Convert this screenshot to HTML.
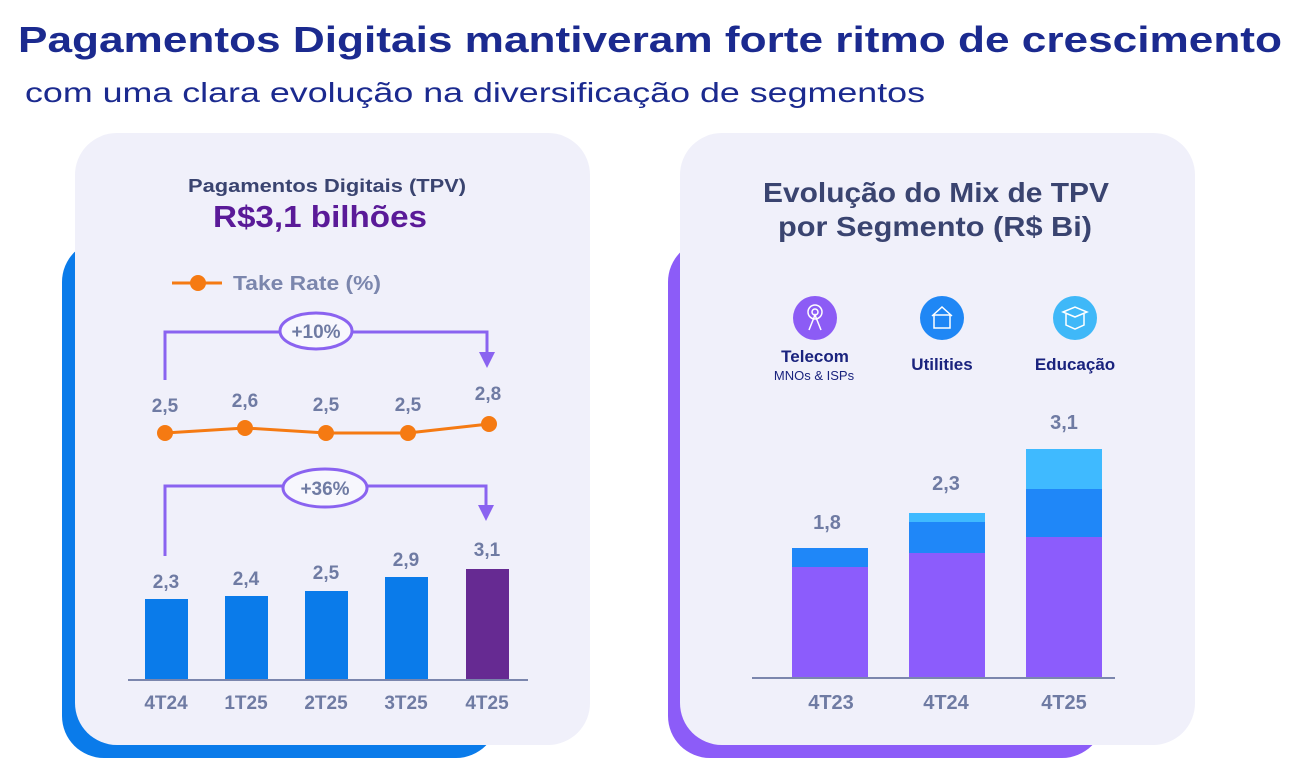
<!DOCTYPE html>
<html><head><meta charset="utf-8"><style>
html,body{margin:0;padding:0;background:#fff;}
svg{display:block;font-family:"Liberation Sans",sans-serif;}
</style></head><body>
<svg width="1296" height="768" viewBox="0 0 1296 768" xmlns="http://www.w3.org/2000/svg">
<rect width="1296" height="768" fill="#fff"/>
<text x="18" y="52" font-size="36" font-weight="bold" fill="#1b2a8f" textLength="1264" lengthAdjust="spacingAndGlyphs">Pagamentos Digitais mantiveram forte ritmo de crescimento</text>
<text x="25" y="102" font-size="28" fill="#1b2a8f" textLength="900" lengthAdjust="spacingAndGlyphs">com uma clara evolução na diversificação de segmentos</text>

<!-- left card -->
<rect x="62" y="240" width="436" height="518" rx="42" fill="#0a7bea"/>
<rect x="75" y="133" width="515" height="612" rx="42" fill="#f0f0fa"/>
<text x="327" y="192" font-size="18" font-weight="bold" fill="#3a4470" text-anchor="middle" textLength="278" lengthAdjust="spacingAndGlyphs">Pagamentos Digitais (TPV)</text>
<text x="320" y="227" font-size="31" font-weight="bold" fill="#5a1a98" text-anchor="middle" textLength="214" lengthAdjust="spacingAndGlyphs">R$3,1 bilhões</text>
<line x1="172" y1="283" x2="222" y2="283" stroke="#f57a12" stroke-width="3"/>
<circle cx="198" cy="283" r="8" fill="#f57a12"/>
<text x="233" y="290" font-size="20" font-weight="bold" fill="#7b86ad" textLength="148" lengthAdjust="spacingAndGlyphs">Take Rate (%)</text>

<g stroke="#8a63f0" stroke-width="3" fill="none">
<polyline points="165,380 165,332 487,332 487,355"/>
<polyline points="165,556 165,486 486,486 486,508"/>
</g>
<polygon points="479,352 495,352 487,368" fill="#8a63f0"/>
<polygon points="478,505 494,505 486,521" fill="#8a63f0"/>
<ellipse cx="316" cy="331" rx="36" ry="18" fill="#f7f7fd" stroke="#8a63f0" stroke-width="3"/>
<ellipse cx="325" cy="488" rx="42" ry="19" fill="#f7f7fd" stroke="#8a63f0" stroke-width="3"/>
<g font-size="19" font-weight="bold" fill="#6f7ba3" text-anchor="middle">
<text x="316" y="338">+10%</text>
<text x="325" y="495">+36%</text>
<text x="165" y="412">2,5</text><text x="245" y="407">2,6</text><text x="326" y="411">2,5</text><text x="408" y="411">2,5</text><text x="488" y="400">2,8</text>
<text x="166" y="588">2,3</text><text x="246" y="585">2,4</text><text x="326" y="579">2,5</text><text x="406" y="566">2,9</text><text x="487" y="556">3,1</text>
<text x="166" y="709">4T24</text><text x="246" y="709">1T25</text><text x="326" y="709">2T25</text><text x="406" y="709">3T25</text><text x="487" y="709">4T25</text>
</g>
<polyline points="165,433 245,428 326,433 408,433 489,424" fill="none" stroke="#f57a12" stroke-width="3"/>
<g fill="#f57a12"><circle cx="165" cy="433" r="8"/><circle cx="245" cy="428" r="8"/><circle cx="326" cy="433" r="8"/><circle cx="408" cy="433" r="8"/><circle cx="489" cy="424" r="8"/></g>
<g fill="#0a7bea">
<rect x="145" y="599" width="43" height="81"/><rect x="225" y="596" width="43" height="84"/><rect x="305" y="591" width="43" height="89"/><rect x="385" y="577" width="43" height="103"/>
</g>
<rect x="466" y="569" width="43" height="111" fill="#662a92"/>
<line x1="128" y1="680" x2="528" y2="680" stroke="#7b86ad" stroke-width="2"/>

<!-- right card -->
<rect x="668" y="240" width="436" height="518" rx="42" fill="#8c5cf8"/>
<rect x="680" y="133" width="515" height="612" rx="42" fill="#f0f0fa"/>
<g font-size="28" font-weight="bold" fill="#3a4470" text-anchor="middle">
<text x="936" y="202" textLength="346" lengthAdjust="spacingAndGlyphs">Evolução do Mix de TPV</text>
<text x="935" y="236" textLength="314" lengthAdjust="spacingAndGlyphs">por Segmento (R$ Bi)</text>
</g>
<circle cx="815" cy="318" r="22" fill="#8c5cf5"/>
<circle cx="942" cy="318" r="22" fill="#1f87f5"/>
<circle cx="1075" cy="318" r="22" fill="#3fb8f8"/>
<g stroke="#fff" stroke-width="1.5" fill="none">
<circle cx="815" cy="312" r="7"/><circle cx="815" cy="312" r="3"/><polyline points="809,330 815,315 821,330"/>
<polyline points="932,316 942,307 952,316"/><rect x="934" y="315" width="16" height="13"/>
<polygon points="1063,312 1075,307 1087,312 1075,317"/><polyline points="1066,314 1066,325 1075,329 1084,325 1084,314"/>
</g>
<g text-anchor="middle" fill="#1a237e" font-weight="bold" font-size="17">
<text x="815" y="362">Telecom</text>
<text x="942" y="370">Utilities</text>
<text x="1075" y="370">Educação</text>
</g>
<text x="814" y="380" font-size="13" fill="#1a237e" text-anchor="middle">MNOs &amp;  ISPs</text>
<g fill="#8c5cfc">
<rect x="792" y="567" width="76" height="111"/><rect x="909" y="553" width="76" height="125"/><rect x="1026" y="537" width="76" height="141"/>
</g>
<g fill="#1f87f8">
<rect x="792" y="548" width="76" height="19"/><rect x="909" y="522" width="76" height="31"/><rect x="1026" y="489" width="76" height="48"/>
</g>
<g fill="#3fbaff">
<rect x="909" y="513" width="76" height="9"/><rect x="1026" y="449" width="76" height="40"/>
</g>
<line x1="752" y1="678" x2="1115" y2="678" stroke="#7b86ad" stroke-width="2"/>
<g font-size="20" font-weight="bold" fill="#6f7ba3" text-anchor="middle">
<text x="827" y="529">1,8</text><text x="946" y="490">2,3</text><text x="1064" y="429">3,1</text>
<text x="831" y="709">4T23</text><text x="946" y="709">4T24</text><text x="1064" y="709">4T25</text>
</g>
</svg>
</body></html>
